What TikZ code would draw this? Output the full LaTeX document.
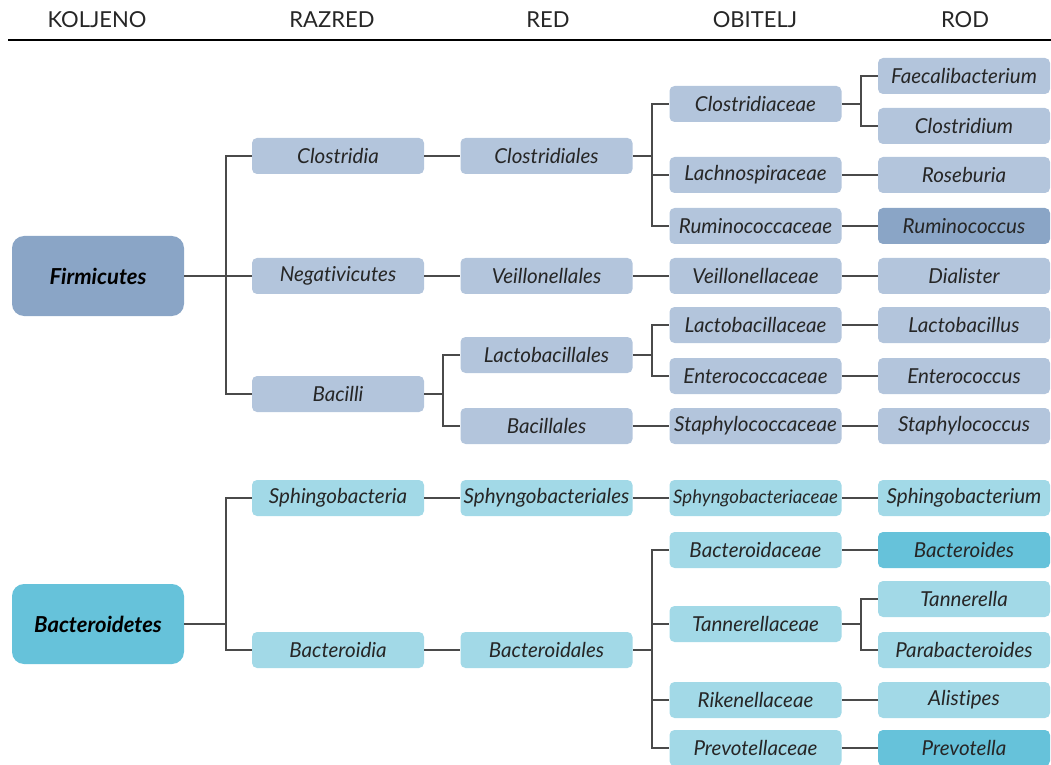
\documentclass[tikz,border=0pt]{standalone}
\usepackage{fontspec}
\setmainfont{Lato}[Ligatures=NoCommon]
\usetikzlibrary{positioning}

\definecolor{firmhell}{HTML}{B3C5DC}
\definecolor{firmdunkel}{HTML}{8AA5C6}
\definecolor{bacthell}{HTML}{A2D9E7}
\definecolor{bactdunkel}{HTML}{66C2DA}
\definecolor{linie}{HTML}{4A4A4A}

\begin{document}
\begin{tikzpicture}[%
    x=0.5pt, y=-0.5pt,
    box/.style={rounded corners=2.5pt, minimum width=86pt, minimum height=18pt,
        inner sep=0pt, text=black!85, font=\fontsize{10.3}{12}\selectfont\itshape},
    firm/.style={box, fill=firmhell},
    firmdark/.style={box, fill=firmdunkel},
    bact/.style={box, fill=bacthell},
    bactdark/.style={box, fill=bactdunkel},
    phylum/.style={rounded corners=6pt, minimum width=86pt, minimum height=40pt,
        inner sep=0pt, font=\fontsize{11}{13}\selectfont\bfseries\itshape},
    kopf/.style={text=black!85, font=\fontsize{11}{13}\selectfont},
    ast/.style={draw=linie, line width=1pt}
    ]
        \useasboundingbox (0,0) rectangle (1051,765);

        % Kopfzeile
        \node[kopf] (hK) at (97,20) {KOLJENO};
        \node[kopf] (hR) at (332,20) {RAZRED};
        \node[kopf] (hO) at (548,20) {RED};
        \node[kopf] (hB) at (755,20) {OBITELJ};
        \node[kopf] (hG) at (965,20) {ROD};
        \draw[line width=1pt] (8,40) -- (1051,40);

        % Koljeno
        \node[phylum, fill=firmdunkel] (Firmicutes) at (98,276) {Firmicutes};
        \node[phylum, fill=bactdunkel] (Bacteroidetes) at (98,624) {Bacteroidetes};

        % Razred
        \node[firm] (Clostridia) at (338,156) {Clostridia};
        \node[firm] (Negativicutes) at (338,276) {Negativicutes};
        \node[firm] (Bacilli) at (338,394) {Bacilli};
        \node[bact] (Sphingobacteria) at (338,498) {Sphingobacteria};
        \node[bact] (Bacteroidia) at (338,650) {Bacteroidia};

        % Red
        \node[firm] (Clostridiales) at (546.5,156) {Clostridiales};
        \node[firm] (Veillonellales) at (546.5,276) {Veillonellales};
        \node[firm] (Lactobacillales) at (546.5,355) {Lactobacillales};
        \node[firm] (Bacillales) at (546.5,426) {Bacillales};
        \node[bact] (Sphyngobacteriales) at (546.5,498) {Sphyngobacteriales};
        \node[bact] (Bacteroidales) at (546.5,650) {Bacteroidales};

        % Obitelj
        \node[firm] (Clostridiaceae) at (755.5,104) {Clostridiaceae};
        \node[firm] (Lachnospiraceae) at (755.5,175) {Lachnospiraceae};
        \node[firm] (Ruminococcaceae) at (755.5,226) {Ruminococcaceae};
        \node[firm] (Veillonellaceae) at (755.5,276) {Veillonellaceae};
        \node[firm] (Lactobacillaceae) at (755.5,325) {Lactobacillaceae};
        \node[firm] (Enterococcaceae) at (755.5,376) {Enterococcaceae};
        \node[firm] (Staphylococcaceae) at (755.5,426) {Staphylococcaceae};
        \node[bact, font=\fontsize{9.3}{11}\selectfont\itshape] (Sphyngobacteriaceae) at (755.5,498) {Sphyngobacteriaceae};
        \node[bact] (Bacteroidaceae) at (755.5,550) {Bacteroidaceae};
        \node[bact] (Tannerellaceae) at (755.5,624) {Tannerellaceae};
        \node[bact] (Rikenellaceae) at (755.5,700) {Rikenellaceae};
        \node[bact] (Prevotellaceae) at (755.5,748) {Prevotellaceae};

        % Rod
        \node[firm] (Faecalibacterium) at (964,76) {Faecalibacterium};
        \node[firm] (Clostridium) at (964,126) {Clostridium};
        \node[firm] (Roseburia) at (964,175) {Roseburia};
        \node[firmdark] (Ruminococcus) at (964,226) {Ruminococcus};
        \node[firm] (Dialister) at (964,276) {Dialister};
        \node[firm] (Lactobacillus) at (964,325) {Lactobacillus};
        \node[firm] (Enterococcus) at (964,376) {Enterococcus};
        \node[firm] (Staphylococcus) at (964,426) {Staphylococcus};
        \node[bact] (Sphingobacterium) at (964,498) {Sphingobacterium};
        \node[bactdark] (Bacteroides) at (964,550) {Bacteroides};
        \node[bact] (Tannerella) at (964,599) {Tannerella};
        \node[bact] (Parabacteroides) at (964,650) {Parabacteroides};
        \node[bact] (Alistipes) at (964,700) {Alistipes};
        \node[bactdark] (Prevotella) at (964,748) {Prevotella};

        % Verzweigungen
        \draw[ast] (Firmicutes.east) -- ++(21pt,0) coordinate (vF);
        \foreach \k in {Clostridia,Negativicutes,Bacilli}
            \draw[ast] (vF) |- (\k.west);
        \draw[ast] (Bacteroidetes.east) -- ++(21pt,0) coordinate (vB);
        \foreach \k in {Sphingobacteria,Bacteroidia}
            \draw[ast] (vB) |- (\k.west);

        \draw[ast] (Bacilli.east) -- ++(9.5pt,0) coordinate (vBa);
        \foreach \k in {Lactobacillales,Bacillales}
            \draw[ast] (vBa) |- (\k.west);

        \draw[ast] (Clostridiales.east) -- ++(9.5pt,0) coordinate (vCl);
        \foreach \k in {Clostridiaceae,Lachnospiraceae,Ruminococcaceae}
            \draw[ast] (vCl) |- (\k.west);
        \draw[ast] (Lactobacillales.east) -- ++(9.5pt,0) coordinate (vLa);
        \foreach \k in {Lactobacillaceae,Enterococcaceae}
            \draw[ast] (vLa) |- (\k.west);
        \draw[ast] (Bacteroidales.east) -- ++(9.5pt,0) coordinate (vBd);
        \foreach \k in {Bacteroidaceae,Tannerellaceae,Rikenellaceae,Prevotellaceae}
            \draw[ast] (vBd) |- (\k.west);

        \draw[ast] (Clostridiaceae.east) -- ++(9.5pt,0) coordinate (vCa);
        \foreach \k in {Faecalibacterium,Clostridium}
            \draw[ast] (vCa) |- (\k.west);
        \draw[ast] (Tannerellaceae.east) -- ++(9.5pt,0) coordinate (vTa);
        \foreach \k in {Tannerella,Parabacteroides}
            \draw[ast] (vTa) |- (\k.west);

        % einfache Leiter
        \draw[ast] (Clostridia) -- (Clostridiales);
        \draw[ast] (Negativicutes) -- (Veillonellales) -- (Veillonellaceae) -- (Dialister);
        \draw[ast] (Bacillales) -- (Staphylococcaceae) -- (Staphylococcus);
        \draw[ast] (Sphingobacteria) -- (Sphyngobacteriales) -- (Sphyngobacteriaceae) -- (Sphingobacterium);
        \draw[ast] (Bacteroidia) -- (Bacteroidales);
        \draw[ast] (Lachnospiraceae) -- (Roseburia);
        \draw[ast] (Ruminococcaceae) -- (Ruminococcus);
        \draw[ast] (Lactobacillaceae) -- (Lactobacillus);
        \draw[ast] (Enterococcaceae) -- (Enterococcus);
        \draw[ast] (Bacteroidaceae) -- (Bacteroides);
        \draw[ast] (Rikenellaceae) -- (Alistipes);
        \draw[ast] (Prevotellaceae) -- (Prevotella);
    \end{tikzpicture}
\end{document}
